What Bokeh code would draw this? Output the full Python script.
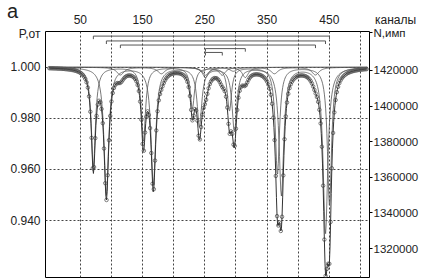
import numpy as np
from bokeh.plotting import figure
from bokeh.layouts import column
from bokeh.models import (Range1d, LinearAxis, FixedTicker, NumeralTickFormatter, Div)
from bokeh.embed import file_html
from bokeh.resources import INLINE

# ---------------- data ----------------
channels = np.arange(0, 512)

# sub-spectra: line positions (channel), line depths (fraction of baseline), HWHM (channels)
sextet_a_pos = [70.9, 151.3, 230.0, 289.5, 366.6, 450.2]
sextet_a_depth = [0.039, 0.029, 0.016, 0.017, 0.042, 0.054]
sextet_b_pos = [91.8, 167.3, 241.3, 297.5, 373.0, 443.8]
sextet_b_depth = [0.050, 0.046, 0.023, 0.025, 0.050, 0.065]
sextet_c_pos = [114.3, 180.2, 246.0, 295.8, 361.8, 427.7]
sextet_c_depth = [0.003, 0.0025, 0.0015, 0.0015, 0.0025, 0.003]
doublet_1_pos = [251.0, 315.0]
doublet_1_depth = [0.004, 0.004]
doublet_2_pos = [251.0, 278.0]
doublet_2_depth = [0.003, 0.003]
component_hwhm = [4.0, 4.5, 7.0, 6.0, 6.0]

channel_ticks = [50, 100, 150, 200, 250, 300, 350, 400, 450, 500]
channel_labels = {50: "50", 150: "150", 250: "250", 350: "350", 450: "450"}
p_ticks = [0.940, 0.960, 0.980, 1.000]
n_ticks = [1320000, 1340000, 1360000, 1380000, 1400000, 1420000]

# ---------------- model curves ----------------
components = [
    (sextet_a_pos, sextet_a_depth),
    (sextet_b_pos, sextet_b_depth),
    (sextet_c_pos, sextet_c_depth),
    (doublet_1_pos, doublet_1_depth),
    (doublet_2_pos, doublet_2_depth),
]
absorptions = []
for (pos, dep), g in zip(components, component_hwhm):
    a = np.zeros(len(channels), dtype=float)
    for c, d in zip(pos, dep):
        a += d / (1.0 + ((channels - c) / g) ** 2)
    absorptions.append(a)
total = 1.0 - np.sum(absorptions, axis=0)

FONT = "Liberation Sans"
P_LABEL_AT = 1.0132      # level of the "P,от" caption on the left scale
N_LABEL_AT = 1441300     # level of the "N,имп" caption on the right scale

p = figure(width=424, height=279, output_backend="svg", toolbar_location=None,
           x_range=Range1d(-6, 514.5), y_range=Range1d(0.9177, 1.014),
           x_axis_location="above", y_axis_location="left",
           min_border_left=45, min_border_right=55, min_border_top=31, min_border_bottom=2,
           background_fill_color="white", border_fill_color="white")
p.outline_line_color = "black"
p.outline_line_width = 1
p.outline_line_alpha = 1

# top axis (channels)
xa = p.xaxis[0]
xa.ticker = FixedTicker(ticks=channel_ticks)
xa.major_label_overrides = {t: channel_labels.get(t, "") for t in channel_ticks}
xa.major_tick_out = 0
xa.major_tick_in = 0
xa.minor_tick_line_color = None
xa.axis_line_color = None
xa.major_label_standoff = 8
xa.major_label_text_font = FONT
xa.major_label_text_font_size = "12px"
xa.major_label_text_color = "#222"

# left axis (P)
ya = p.yaxis[0]
ya.ticker = FixedTicker(ticks=p_ticks + [P_LABEL_AT])
ya.formatter = NumeralTickFormatter(format="0.000")
ya.major_label_overrides = {P_LABEL_AT: "P,от"}
ya.major_tick_out = 0
ya.major_tick_in = 0
ya.minor_tick_line_color = None
ya.axis_line_color = None
ya.major_label_standoff = 5
ya.major_label_text_font = FONT
ya.major_label_text_font_size = "12px"
ya.major_label_text_color = "#222"

# right axis (counts)
p.extra_y_ranges = {"N": Range1d(1303708, 1441910)}
ra = LinearAxis(y_range_name="N", ticker=FixedTicker(ticks=n_ticks + [N_LABEL_AT]),
                formatter=NumeralTickFormatter(format="0"))
ra.major_label_overrides = {N_LABEL_AT: "N,имп"}
ra.major_tick_out = 3
ra.major_tick_in = 0
ra.minor_tick_line_color = None
ra.axis_line_color = None
ra.major_label_standoff = 1
ra.major_label_text_font = FONT
ra.major_label_text_font_size = "11.5px"
ra.major_label_text_color = "#222"
p.add_layout(ra, "right")

# grids
p.xgrid.ticker = FixedTicker(ticks=channel_ticks)
p.ygrid.ticker = FixedTicker(ticks=p_ticks)
for g in (p.xgrid[0], p.ygrid[0]):
    g.grid_line_color = "#444"
    g.grid_line_dash = "2 2"
    g.grid_line_width = 1

# component sub-spectra
for a in absorptions:
    p.line(channels, 1.0 - a, line_color="#555", line_width=0.8)

# measured points and total fit
p.scatter(channels[::2], total[::2], marker="circle", size=3.5, fill_color=None,
          line_color="#5a5a5a", line_width=0.8)
p.line(channels, total, line_color="#333", line_width=1)

# stick brackets above the spectrum
bracket_levels = [1.0122, 1.0103, 1.0087, 1.0073, 1.0058]
bx0, bx1, by0, by1 = [], [], [], []
for (pos, dep), lvl in zip(components, bracket_levels):
    x0, x1 = pos[0], pos[-1]
    bx0 += [x0, x0, x1]
    bx1 += [x1, x0, x1]
    by0 += [lvl, lvl, lvl]
    by1 += [lvl, lvl - 0.0012, lvl - 0.0012]
p.segment(bx0, by0, bx1, by1, line_color="#555", line_width=1)

# captions outside the frame (overlaid text)
base_style = {"position": "absolute", "font-family": FONT, "color": "#222",
              "line-height": "normal", "margin": "0", "padding": "0",
              "white-space": "nowrap", "z-index": "10"}
div_a = Div(text="a", styles=dict(base_style, left="7px", top="0px", **{"font-size": "20px"}))
div_k = Div(text="каналы", styles=dict(base_style, left="375px", top="13px", **{"font-size": "12px"}))

layout = column(p, div_a, div_k)
open("out.html", "w").write(file_html(layout, INLINE))
